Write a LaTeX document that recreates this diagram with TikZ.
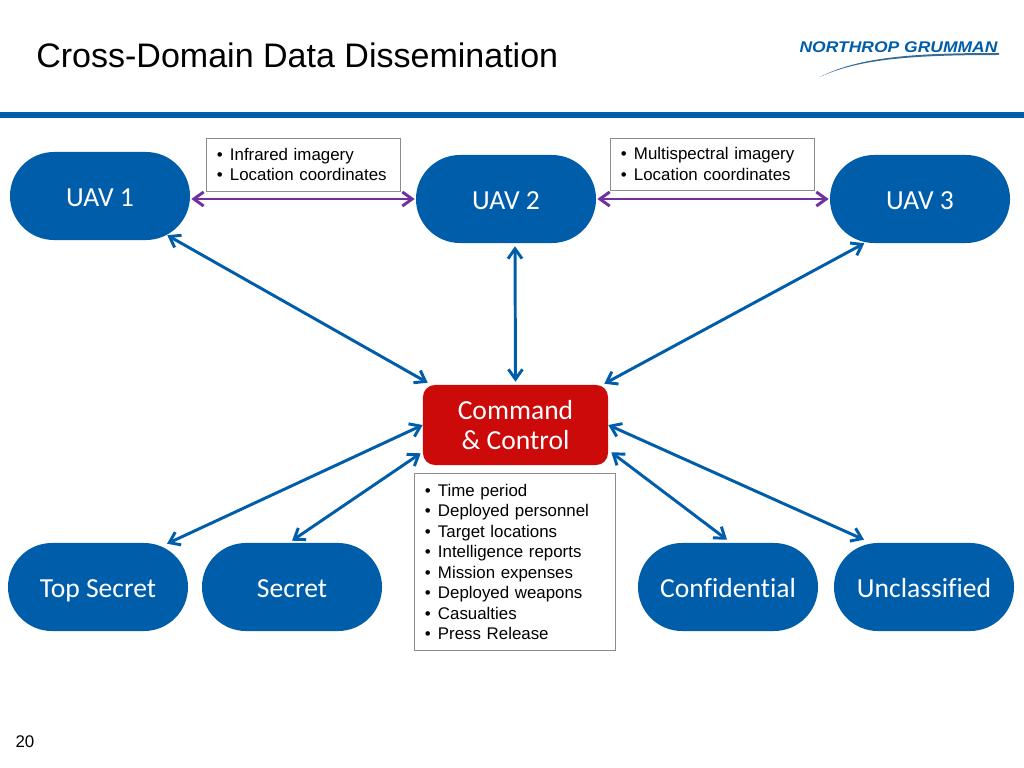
\documentclass[tikz,border=0pt]{standalone}
\usepackage{fontspec}
\setmainfont{Liberation Sans}
\newfontfamily\bubblefont[Ligatures=NoCommon]{Carlito}
\usetikzlibrary{arrows.meta, positioning}
\definecolor{nblue}{HTML}{005DAA}
\definecolor{nred}{HTML}{CC0A0A}
\definecolor{npurple}{HTML}{7030A0}
\definecolor{ngrey}{HTML}{8C8C8C}
\newcommand{\bitem}[1]{\makebox[13\pxu][l]{\textbullet}#1}
\newlength{\pxu}
\setlength{\pxu}{0.025cm}
\tikzset{
    bubble/.style={fill=nblue, text=white, rounded corners=1.1cm, minimum width=4.5cm, minimum height=2.2cm, inner sep=0pt, text height=15pt, text depth=0pt, font=\bubblefont\fontsize{19.6}{24}\selectfont},
    infobox/.style={draw=ngrey, fill=white, line width=0.7pt, align=left, inner sep=0pt, font=\fontsize{12}{14.6}\selectfont},
    bluelink/.style={draw=nblue, line width=2.1pt, {Straight Barb[length=7pt,width=10pt]}-{Straight Barb[length=7pt,width=10pt]}},
    purplelink/.style={draw=npurple, line width=2.1pt, {Straight Barb[length=7pt,width=10pt]}-{Straight Barb[length=7pt,width=10pt]}}
}
\begin{document}
\begin{tikzpicture}[x=0.025cm, y=-0.025cm]
    \useasboundingbox (0,0) rectangle (1024,768);
    \fill[white] (0,0) rectangle (1024,768);

    % header
    \node[anchor=base west, inner sep=0pt, font=\fontsize{24.2}{30}\selectfont] (title) at (36,68) {Cross-Domain Data Dissemination};
    \fill[nblue] (0,112) rectangle (1024,118);
    \node[anchor=center, inner sep=0pt, text=nblue, xscale=1.13, font=\fontsize{11}{12}\selectfont\bfseries\itshape] (logo) at (898.5,47) {NORTHROP GRUMMAN};
    \fill[nblue!60!gray] (820,77) .. controls (860,56) and (920,53) .. (999,53) -- (999,55) .. controls (920,55) and (860,58) .. (820,77) -- cycle;
    \node[anchor=base, inner sep=0pt, font=\fontsize{12}{14}\selectfont] (page) at (25,747) {20};

    % bubbles
    \node[bubble] (uav1) at (100,196) {UAV 1};
    \node[bubble] (uav2) at (506,199) {UAV 2};
    \node[bubble] (uav3) at (920,199) {UAV 3};
    \node[bubble] (topsecret) at (98,587) {Top Secret};
    \node[bubble] (secret) at (292,587) {Secret};
    \node[bubble] (confidential) at (728,587) {Confidential};
    \node[bubble] (unclassified) at (924,587) {Unclassified};
    \node[fill=nred, text=white, rounded corners=0.3cm, minimum width=4.625cm, minimum height=2cm, inner sep=0pt, align=center, font=\bubblefont\fontsize{19.6}{22}\selectfont] (cc) at (515.5,425) {Command\\\& Control};

    % info boxes
    \node[infobox, minimum width=4.825cm, minimum height=1.325cm, text width=4.325cm] (infrared) at (303.5,164.5) {\bitem{Infrared imagery}\\\bitem{Location coordinates}};
    \node[infobox, minimum width=5.075cm, minimum height=1.3cm, text width=4.575cm] (multi) at (712.5,164) {\bitem{Multispectral imagery}\\\bitem{Location coordinates}};
    \node[infobox, minimum width=5cm, minimum height=4.4cm, text width=4.5cm] (details) at (515,562) {\bitem{Time period}\\\bitem{Deployed personnel}\\\bitem{Target locations}\\\bitem{Intelligence reports}\\\bitem{Mission expenses}\\\bitem{Deployed weapons}\\\bitem{Casualties}\\\bitem{Press Release}};

    % connectors
    \draw[purplelink] ([shift={(1,3)}]uav1.east) -- ([xshift=-1*0.025cm]uav2.west);
    \draw[purplelink] ([xshift=1*0.025cm]uav2.east) -- ([xshift=-1*0.025cm]uav3.west);
    \draw[bluelink] ([shift={(-23,-5)}]uav1.south east) -- ([shift={(5,-2)}]cc.north west);
    \draw[bluelink] ([shift={(9,3)}]uav2.south) -- ([yshift=0.075cm]cc.north);
    \draw[bluelink] ([shift={(-146,0)}]uav3.south east) -- ([shift={(-4,-1)}]cc.north east);
    \draw[bluelink] (cc.west) -- ([shift={(69,1)}]topsecret.north);
    \draw[bluelink] ([shift={(-2,-12)}]cc.south west) -- ([shift={(0,-2)}]secret.north);
    \draw[bluelink] ([shift={(3,-13)}]cc.south east) -- ([shift={(-1,-3)}]confidential.north);
    \draw[bluelink] (cc.east) -- ([shift={(-60,-3)}]unclassified.north);
\end{tikzpicture}
\end{document}
